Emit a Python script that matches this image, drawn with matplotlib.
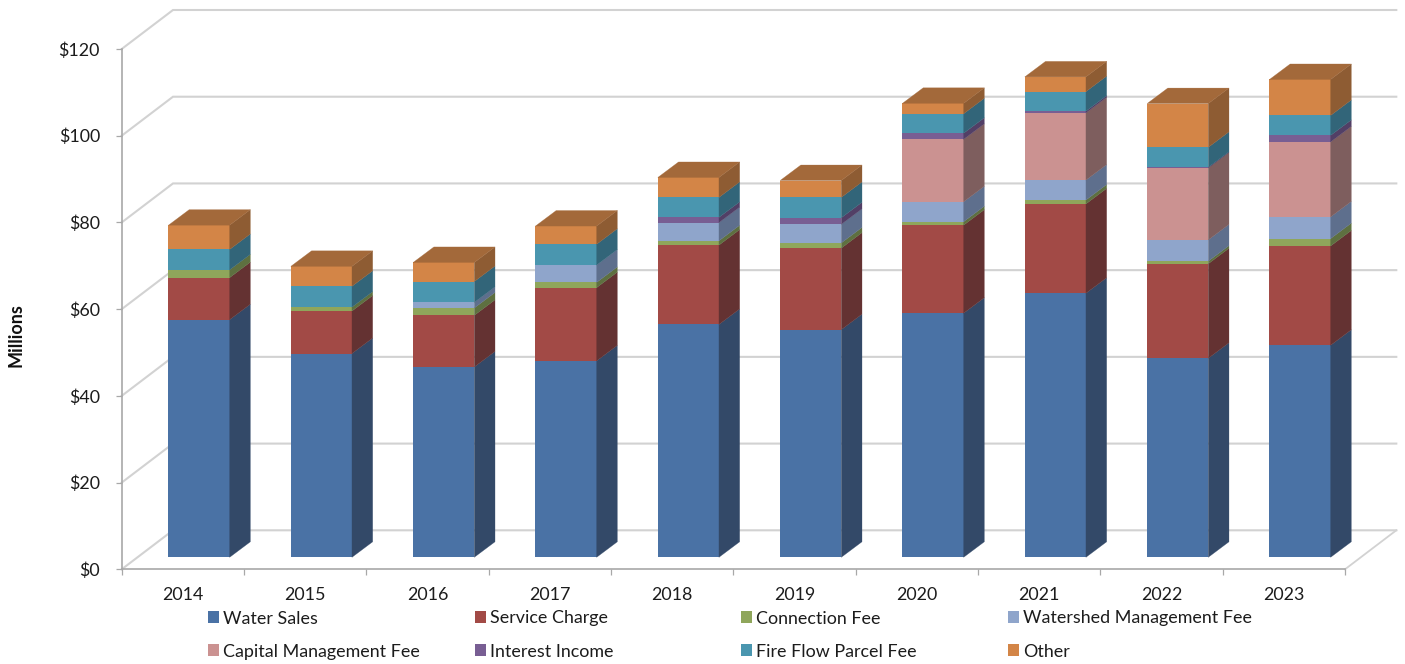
import matplotlib
matplotlib.use("Agg")
import matplotlib.pyplot as plt
import numpy as np
from matplotlib.patches import Patch, Polygon
from matplotlib.transforms import Affine2D

years = ["2014", "2015", "2016", "2017", "2018", "2019", "2020", "2021", "2022", "2023"]
water_sales = [54.8, 47.0, 43.9, 45.3, 53.7, 52.5, 56.3, 60.9, 45.9, 48.9]
service_charge = [9.7, 9.8, 11.9, 16.9, 18.3, 18.8, 20.3, 20.6, 21.8, 22.9]
connection_fee = [1.8, 0.9, 1.7, 1.2, 1.0, 1.2, 0.8, 0.9, 0.6, 1.7]
watershed_fee = [0, 0, 1.3, 4.0, 4.2, 4.3, 4.6, 4.6, 4.9, 5.0]
capital_fee = [0, 0, 0, 0, 0, 0, 14.4, 15.5, 16.6, 17.3]
interest_income = [0, 0, 0, 0, 1.2, 1.5, 1.4, 0.4, 0.15, 1.5]
fire_flow_fee = [4.7, 4.8, 4.8, 4.8, 4.6, 4.7, 4.5, 4.5, 4.6, 4.6]
other = [5.6, 4.6, 4.4, 4.2, 4.6, 3.9, 2.4, 3.4, 10.1, 8.3]

series_names = ["Water Sales", "Service Charge", "Connection Fee", "Watershed Management Fee",
                "Capital Management Fee", "Interest Income", "Fire Flow Parcel Fee", "Other"]
series_values = [water_sales, service_charge, connection_fee, watershed_fee,
                 capital_fee, interest_income, fire_flow_fee, other]
front_colors = ["#4A72A5", "#A24A46", "#8FA65B", "#8FA5CB", "#CB9291", "#785E93", "#4A96AF", "#D38547"]
side_colors = ["#334968", "#643232", "#5E7040", "#5E6F8D", "#7E5E5E", "#523F66", "#326579", "#8E5C33"]
top_color = "#A3693A"
y_ticks = [0, 20, 40, 60, 80, 100, 120]

W, H = 1405, 664
plt.rcParams["font.family"] = ["Lato", "DejaVu Sans"]
FS = 12.9
TXT = "#1c1c1c"
GRID = "#D2D2D2"
AXC = "#A8A8A8"

fig = plt.figure(figsize=(W / 100, H / 100), dpi=100)
L, R, T, B = 121.7, 1345.0, 49.0, 569.3
ax = fig.add_axes([L / W, 1 - B / H, (R - L) / W, (B - T) / H])
ax.set_xlim(0, 10)
ax.set_ylim(0, 120)
ax.patch.set_alpha(0)
px_x = 10 / (R - L)
px_y = 120 / (B - T)

# back wall and floor, as depth offsets from the front plane
wall_dx, wall_dy = 51.3 * px_x, 39.0 * px_y
for v in y_ticks:
    ax.plot([0, wall_dx, 10 + wall_dx], [v, v + wall_dy, v + wall_dy], color=GRID, lw=1.5,
            clip_on=False, zorder=1, solid_joinstyle="miter")
ax.plot([10, 10 + wall_dx], [0, wall_dy], color=GRID, lw=1.3, clip_on=False, zorder=1)

# bars sit part-way into the floor
bar_shift = Affine2D().translate(16.2, 12.0)
tr = ax.transData + bar_shift
x = np.arange(len(years)) + 0.5
bar_w = 0.5
depth_dx, depth_dy = 20.7 * px_x, 15.5 * px_y
bottom = np.zeros(len(years))
for vals, fc, sc in zip(series_values, front_colors, side_colors):
    vals = np.array(vals, dtype=float)
    ax.bar(x, vals, bar_w, bottom=bottom, color=fc, linewidth=0, transform=tr, clip_on=False, zorder=3)
    for xi, b, v in zip(x, bottom, vals):
        if v > 0:
            xr = xi + bar_w / 2
            ax.add_patch(Polygon([(xr, b), (xr, b + v), (xr + depth_dx, b + v + depth_dy), (xr + depth_dx, b + depth_dy)],
                                 closed=True, facecolor=sc, edgecolor=sc, linewidth=0.2, transform=tr, clip_on=False, zorder=3))
    bottom = bottom + vals
for xi, t in zip(x, bottom):
    xl, xr = xi - bar_w / 2, xi + bar_w / 2
    ax.add_patch(Polygon([(xl, t), (xr, t), (xr + depth_dx, t + depth_dy), (xl + depth_dx, t + depth_dy)],
                         closed=True, facecolor=top_color, edgecolor=top_color, linewidth=0.2,
                         transform=tr, clip_on=False, zorder=3))
ax.set_xlim(0, 10)
ax.set_ylim(0, 120)

for s in ("top", "right"):
    ax.spines[s].set_visible(False)
for s in ("left", "bottom"):
    ax.spines[s].set_color(AXC)
    ax.spines[s].set_linewidth(1.2)
    ax.spines[s].set_zorder(2)

ax.set_yticks(y_ticks)
ax.set_yticklabels([f"${v}" for v in y_ticks], fontsize=FS, color=TXT)
ax.tick_params(axis="y", length=4, width=0.9, color=AXC, pad=11.6)
ax.set_xticks(np.arange(0, 11))
ax.set_xticklabels([])
ax.tick_params(axis="x", which="major", length=4, width=0.9, color=AXC)
ax.set_xticks(x, minor=True)
ax.set_xticklabels(years, minor=True, fontsize=FS, color=TXT)
ax.tick_params(axis="x", which="minor", length=0, pad=12.6)

fig.text(16 / W, 1 - 335 / H, "Millions", rotation=90, ha="center", va="center",
         fontsize=13, fontweight="bold", color="#111111")

# legend: four evenly spaced columns of two rows
col_x = [208, 475, 741, 1008]
em = FS * 100 / 72
for c, px in enumerate(col_x):
    idx = [c, c + 4]
    handles = [Patch(facecolor=front_colors[i], edgecolor="none") for i in idx]
    labels = [series_names[i] for i in idx]
    leg = ax.legend(handles, labels, loc="upper left", bbox_to_anchor=(px / W, 1 - 610.5 / H),
                    bbox_transform=fig.transFigure, frameon=False, fontsize=FS, ncol=1,
                    handlelength=11 / em, handleheight=11 / em, handletextpad=4.3 / em,
                    labelspacing=0.95, borderpad=0, borderaxespad=0, labelcolor=TXT)
    ax.add_artist(leg)
ax.legend_ = None

fig.savefig("out.png", dpi=100)
